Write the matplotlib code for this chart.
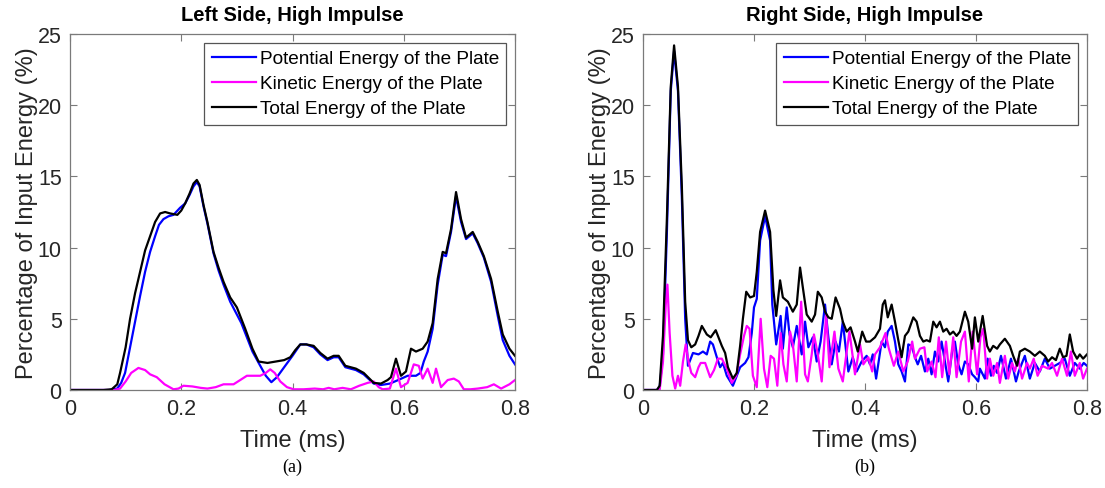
import matplotlib
matplotlib.use("Agg")
import matplotlib.pyplot as plt

# ---------------- Left side data ----------------
left_total_t = [0, 0.06, 0.075, 0.085, 0.09, 0.1, 0.108, 0.117, 0.126, 0.135, 0.144, 0.153, 0.162,
                0.171, 0.18, 0.193, 0.2, 0.207, 0.215, 0.222, 0.228, 0.233, 0.24, 0.247, 0.258,
                0.267, 0.276, 0.288, 0.3, 0.308, 0.315, 0.328, 0.339, 0.355, 0.37, 0.385, 0.396,
                0.405, 0.414, 0.425, 0.438, 0.45, 0.463, 0.474, 0.483, 0.495, 0.514, 0.528, 0.546,
                0.559, 0.571, 0.577, 0.586, 0.595, 0.604, 0.613, 0.622, 0.634, 0.643, 0.652, 0.661,
                0.67, 0.676, 0.685, 0.694, 0.703, 0.712, 0.724, 0.733, 0.744, 0.757, 0.769, 0.778,
                0.79, 0.8]
left_total_v = [0, 0, 0.05, 0.4, 1.2, 3.0, 5.0, 6.8, 8.3, 9.8, 10.8, 11.8, 12.4,
                12.5, 12.4, 12.3, 12.6, 13.1, 13.8, 14.5, 14.75, 14.4, 13.0, 11.8, 9.7,
                8.6, 7.6, 6.5, 5.8, 5.0, 4.3, 2.9, 2.0, 1.9, 2.0, 2.1, 2.3,
                2.8, 3.2, 3.2, 3.1, 2.6, 2.2, 2.4, 2.4, 1.7, 1.5, 1.2, 0.5,
                0.45, 0.7, 0.9, 2.2, 1.0, 1.3, 2.9, 2.7, 2.9, 3.4, 4.7, 7.8,
                9.7, 9.6, 11.3, 13.9, 12.0, 10.7, 11.1, 10.4, 9.4, 7.8, 5.5, 3.9,
                2.9, 2.4]

left_pot_t = [0, 0.07, 0.085, 0.092, 0.099, 0.108, 0.117, 0.126, 0.135, 0.144, 0.153, 0.16, 0.168,
              0.177, 0.186, 0.198, 0.207, 0.215, 0.222, 0.228, 0.233, 0.24, 0.247, 0.258, 0.267,
              0.276, 0.288, 0.3, 0.308, 0.315, 0.328, 0.342, 0.352, 0.362, 0.372, 0.385, 0.4,
              0.414, 0.425, 0.438, 0.45, 0.463, 0.474, 0.483, 0.495, 0.514, 0.528, 0.546, 0.559,
              0.575, 0.59, 0.607, 0.622, 0.63, 0.636, 0.643, 0.652, 0.661, 0.67, 0.676, 0.685,
              0.694, 0.703, 0.712, 0.724, 0.733, 0.744, 0.757, 0.769, 0.778, 0.79, 0.8]
left_pot_v = [0, 0, 0.1, 0.5, 1.2, 3.0, 4.8, 6.6, 8.3, 9.7, 10.8, 11.6, 12.0,
              12.2, 12.3, 12.8, 13.1, 13.7, 14.3, 14.6, 14.3, 12.9, 11.7, 9.6, 8.4,
              7.4, 6.2, 5.3, 4.7, 4.0, 2.7, 1.7, 1.0, 0.55, 0.9, 1.6, 2.4,
              3.2, 3.2, 3.0, 2.5, 2.1, 2.3, 2.3, 1.6, 1.4, 1.1, 0.45, 0.35,
              0.45, 0.7, 1.0, 1.0, 1.2, 2.0, 2.7, 4.3, 7.4, 9.5, 9.4, 11.1,
              13.6, 11.8, 10.6, 11.0, 10.3, 9.3, 7.6, 5.2, 3.5, 2.4, 1.8]

left_kin_t = [0, 0.08, 0.09, 0.1, 0.11, 0.123, 0.135, 0.144, 0.156, 0.17, 0.186, 0.195, 0.204,
              0.22, 0.235, 0.247, 0.262, 0.276, 0.294, 0.306, 0.318, 0.33, 0.342, 0.352, 0.36,
              0.368, 0.378, 0.39, 0.402, 0.42, 0.44, 0.455, 0.465, 0.475, 0.49, 0.505, 0.52,
              0.535, 0.546, 0.555, 0.562, 0.575, 0.586, 0.595, 0.607, 0.618, 0.627, 0.634, 0.643,
              0.652, 0.658, 0.667, 0.679, 0.69, 0.699, 0.708, 0.72, 0.733, 0.75, 0.762, 0.775,
              0.79, 0.8]
left_kin_v = [0, 0, 0.1, 0.6, 1.2, 1.55, 1.4, 1.1, 0.9, 0.4, 0.05, 0.1, 0.3,
              0.25, 0.15, 0.1, 0.2, 0.4, 0.4, 0.7, 1.0, 1.0, 1.0, 1.2, 1.45,
              1.2, 0.6, 0.2, 0.05, 0.05, 0.1, 0.05, 0.15, 0.05, 0.15, 0.05, 0.3,
              0.5, 0.6, 0.2, 0.05, 0.1, 1.5, 0.2, 0.5, 1.8, 1.7, 0.8, 1.5,
              0.5, 1.5, 0.2, 0.7, 0.8, 0.6, 0.05, 0.05, 0.1, 0.2, 0.4, 0.1,
              0.4, 0.7]

# ---------------- Right side data ----------------
right_total_t = [0, 0.025, 0.03, 0.036, 0.043, 0.05, 0.056, 0.063, 0.07, 0.076, 0.081, 0.087,
                 0.094, 0.1, 0.106, 0.115, 0.122, 0.131, 0.142, 0.148, 0.153, 0.162, 0.169, 0.175,
                 0.18, 0.186, 0.193, 0.2, 0.205, 0.211, 0.22, 0.229, 0.235, 0.24, 0.247, 0.252,
                 0.261, 0.27, 0.277, 0.283, 0.288, 0.295, 0.304, 0.31, 0.315, 0.322, 0.328, 0.334,
                 0.34, 0.347, 0.355, 0.36, 0.367, 0.374, 0.382, 0.387, 0.395, 0.402, 0.409, 0.418,
                 0.427, 0.432, 0.436, 0.441, 0.448, 0.454, 0.46, 0.466, 0.472, 0.478, 0.487, 0.493,
                 0.499, 0.505, 0.511, 0.517, 0.523, 0.529, 0.535, 0.541, 0.547, 0.553, 0.559, 0.565,
                 0.571, 0.58, 0.586, 0.593, 0.598, 0.604, 0.612, 0.62, 0.625, 0.631, 0.638, 0.643,
                 0.652, 0.661, 0.667, 0.674, 0.679, 0.688, 0.697, 0.706, 0.715, 0.724, 0.73, 0.737,
                 0.744, 0.751, 0.757, 0.763, 0.769, 0.775, 0.782, 0.787, 0.793, 0.8]
right_total_v = [0, 0, 0.3, 3.8, 12.0, 21.3, 24.2, 21.3, 14.3, 6.2, 3.5, 3.0,
                 3.2, 3.8, 4.5, 3.9, 3.7, 4.2, 3.1, 2.6, 1.6, 0.8, 1.2, 3.1,
                 5.0, 6.9, 6.5, 6.6, 8.3, 11.1, 12.6, 11.1, 7.0, 5.2, 7.7, 6.5,
                 6.2, 5.5, 6.0, 8.6, 7.2, 5.3, 4.8, 5.3, 6.9, 6.5, 5.5, 5.1,
                 5.0, 6.5, 5.7, 4.8, 4.1, 4.4, 3.4, 2.7, 4.1, 3.4, 3.4, 3.7,
                 4.3, 6.0, 6.3, 5.1, 6.0, 4.8, 3.5, 2.3, 3.8, 4.1, 5.1, 4.8,
                 3.8, 3.4, 3.5, 3.4, 4.8, 4.4, 4.8, 4.1, 4.3, 3.9, 4.1, 3.8,
                 4.1, 5.5, 4.8, 2.9, 5.1, 3.4, 5.2, 3.1, 2.7, 3.1, 2.9, 3.2,
                 3.6, 3.1, 2.4, 1.7, 2.7, 2.9, 2.7, 2.4, 2.7, 2.4, 2.0, 2.3,
                 2.1, 2.9, 2.3, 2.4, 3.9, 2.7, 2.2, 2.5, 2.2, 2.5]

right_pot_t = [0, 0.025, 0.03, 0.036, 0.043, 0.05, 0.056, 0.063, 0.07, 0.076, 0.081, 0.09,
               0.1, 0.108, 0.115, 0.121, 0.126, 0.133, 0.139, 0.144, 0.151, 0.162, 0.175, 0.184,
               0.19, 0.196, 0.2, 0.205, 0.211, 0.22, 0.229, 0.233, 0.24, 0.248, 0.252, 0.259,
               0.264, 0.27, 0.277, 0.286, 0.292, 0.298, 0.306, 0.313, 0.32, 0.328, 0.334, 0.34,
               0.347, 0.353, 0.36, 0.37, 0.378, 0.385, 0.394, 0.403, 0.409, 0.414, 0.42, 0.43,
               0.436, 0.441, 0.448, 0.454, 0.46, 0.466, 0.472, 0.478, 0.484, 0.49, 0.495, 0.501,
               0.508, 0.514, 0.52, 0.526, 0.532, 0.538, 0.544, 0.55, 0.557, 0.562, 0.568, 0.574,
               0.58, 0.586, 0.593, 0.598, 0.604, 0.607, 0.616, 0.621, 0.627, 0.632, 0.638, 0.645,
               0.654, 0.663, 0.672, 0.677, 0.688, 0.697, 0.706, 0.715, 0.724, 0.733, 0.742, 0.751,
               0.76, 0.769, 0.778, 0.787, 0.794, 0.8]
right_pot_v = [0, 0, 0.2, 2.5, 11.0, 21.0, 23.8, 21.0, 13.5, 5.0, 1.7, 2.6,
               2.5, 2.7, 2.5, 3.4, 3.2, 2.3, 1.6, 1.9, 1.0, 0.3, 1.6, 1.9,
               2.3, 4.0, 5.8, 6.4, 10.5, 12.2, 10.5, 6.0, 3.2, 5.2, 2.9, 5.8,
               3.9, 3.0, 4.5, 2.5, 4.8, 3.0, 3.7, 2.0, 3.4, 6.0, 3.7, 1.8,
               3.4, 2.7, 4.8, 1.3, 2.3, 1.3, 2.0, 2.4, 1.8, 2.5, 0.8, 3.4,
               3.0, 4.1, 4.5, 3.4, 1.8, 1.3, 0.6, 3.2, 3.1, 2.3, 1.8, 2.4,
               1.3, 2.2, 1.1, 2.7, 2.0, 3.4, 2.0, 0.6, 2.7, 3.4, 1.8, 1.1,
               2.0, 1.8, 1.1, 0.9, 0.6, 1.5, 0.8, 2.2, 1.0, 1.7, 1.2, 2.4,
               0.8, 2.2, 0.6, 1.3, 2.4, 0.8, 1.9, 1.3, 2.2, 1.5, 1.7, 1.9,
               2.2, 1.0, 1.9, 1.5, 1.9, 1.7]

right_kin_t = [0, 0.03, 0.036, 0.041, 0.044, 0.048, 0.053, 0.058, 0.063, 0.067, 0.072, 0.077,
               0.082, 0.087, 0.094, 0.1, 0.104, 0.112, 0.121, 0.128, 0.135, 0.142, 0.151, 0.16,
               0.168, 0.175, 0.182, 0.187, 0.192, 0.198, 0.205, 0.212, 0.218, 0.224, 0.23, 0.236,
               0.242, 0.248, 0.253, 0.259, 0.265, 0.27, 0.277, 0.285, 0.292, 0.297, 0.304, 0.308,
               0.315, 0.322, 0.33, 0.336, 0.345, 0.352, 0.36, 0.367, 0.372, 0.382, 0.391, 0.397,
               0.406, 0.413, 0.418, 0.427, 0.437, 0.443, 0.452, 0.46, 0.469, 0.477, 0.485, 0.49,
               0.499, 0.507, 0.512, 0.52, 0.527, 0.533, 0.539, 0.546, 0.552, 0.559, 0.565, 0.573,
               0.58, 0.587, 0.594, 0.602, 0.608, 0.613, 0.62, 0.625, 0.631, 0.638, 0.643, 0.652,
               0.658, 0.665, 0.67, 0.676, 0.683, 0.692, 0.697, 0.704, 0.711, 0.719, 0.73, 0.737,
               0.746, 0.755, 0.764, 0.771, 0.778, 0.787, 0.793, 0.8]
right_kin_v = [0, 0, 2.0, 6.0, 7.4, 4.0, 1.0, 0.1, 1.0, 0.3, 2.0, 3.2,
               2.0, 1.2, 0.9, 1.6, 1.9, 1.9, 0.9, 1.4, 2.2, 2.2, 1.5, 0.5,
               1.0, 2.5, 3.8, 4.5, 4.3, 1.0, 0.2, 5.0, 1.5, 0.2, 2.4, 2.2,
               0.3, 4.0, 1.8, 0.6, 4.1, 3.2, 0.6, 6.2, 1.1, 0.6, 2.5, 3.9,
               2.5, 0.6, 5.3, 1.6, 4.1, 1.5, 0.6, 2.7, 4.1, 1.1, 3.2, 1.8,
               2.3, 1.3, 2.5, 3.0, 4.0, 2.9, 1.7, 2.7, 1.3, 2.0, 3.4, 2.2,
               2.9, 3.0, 1.3, 2.0, 0.9, 3.7, 0.9, 3.4, 1.1, 3.7, 0.9, 3.4,
               4.1, 0.6, 4.1, 1.1, 3.7, 4.3, 0.8, 2.2, 1.0, 1.9, 0.5, 2.4,
               0.8, 1.9, 1.3, 2.2, 0.8, 1.9, 1.5, 2.2, 1.0, 1.7, 1.5, 1.9,
               1.0, 2.2, 1.0, 2.7, 1.0, 1.9, 0.8, 1.5]

titles = ["Left Side, High Impulse", "Right Side, High Impulse"]
panel_tags = ["(a)", "(b)"]
legend_labels = ["Potential Energy of the Plate", "Kinetic Energy of the Plate",
                 "Total Energy of the Plate"]
x_ticks = [0, 0.2, 0.4, 0.6, 0.8]
x_tick_labels = ["0", "0.2", "0.4", "0.6", "0.8"]
y_ticks = [0, 5, 10, 15, 20, 25]

plt.rcParams['font.family'] = ['Liberation Sans', 'DejaVu Sans']

W, H = 1105, 489
fig = plt.figure(figsize=(W / 100, H / 100), dpi=100)

axes_px = [(70, 515), (643, 1087)]
top_px, bot_px = 35, 391

datasets = [
    (left_pot_t, left_pot_v, left_kin_t, left_kin_v, left_total_t, left_total_v),
    (right_pot_t, right_pot_v, right_kin_t, right_kin_v, right_total_t, right_total_v),
]

spine_col = '#7a7a7a'
for i, (x0, x1) in enumerate(axes_px):
    ax = fig.add_axes([x0 / W, 1 - bot_px / H, (x1 - x0) / W, (bot_px - top_px) / H])
    pt, pv, kt, kv, tt, tv = datasets[i]
    ax.plot(pt, pv, color='#0000FF', lw=1.6, label=legend_labels[0])
    ax.plot(kt, kv, color='#FF00FF', lw=1.6, label=legend_labels[1])
    ax.plot(tt, tv, color='black', lw=1.6, label=legend_labels[2])
    ax.set_xlim(0, 0.8)
    ax.set_ylim(0, 25)
    ax.set_xticks(x_ticks)
    ax.set_xticklabels(x_tick_labels)
    ax.set_yticks(y_ticks)
    ax.tick_params(direction='in', top=True, right=True, length=5, width=0.8,
                   labelsize=15.5, colors=spine_col, labelcolor='#262626', pad=6)
    for s in ax.spines.values():
        s.set_color(spine_col)
        s.set_linewidth(0.9)
    ax.set_xlabel("Time (ms)", fontsize=17, color='#262626', labelpad=7)
    ax.set_ylabel("Percentage of Input Energy (%)", fontsize=17, color='#262626', labelpad=0)
    ax.set_title(titles[i], fontsize=14.5, fontweight='bold', pad=10)
    leg = ax.legend(loc='upper right', fontsize=13.7, frameon=True, fancybox=False,
                    framealpha=1, edgecolor='#555555', borderaxespad=0.45,
                    handlelength=2.3, handletextpad=0.2, labelspacing=0.4,
                    borderpad=0.4)
    leg.get_frame().set_linewidth(0.9)
    fig.text((x0 + x1) / 2 / W, 1 - 467 / H, panel_tags[i], ha='center', va='center',
             fontsize=13, family='Liberation Serif')

fig.savefig("out.png", dpi=100)
